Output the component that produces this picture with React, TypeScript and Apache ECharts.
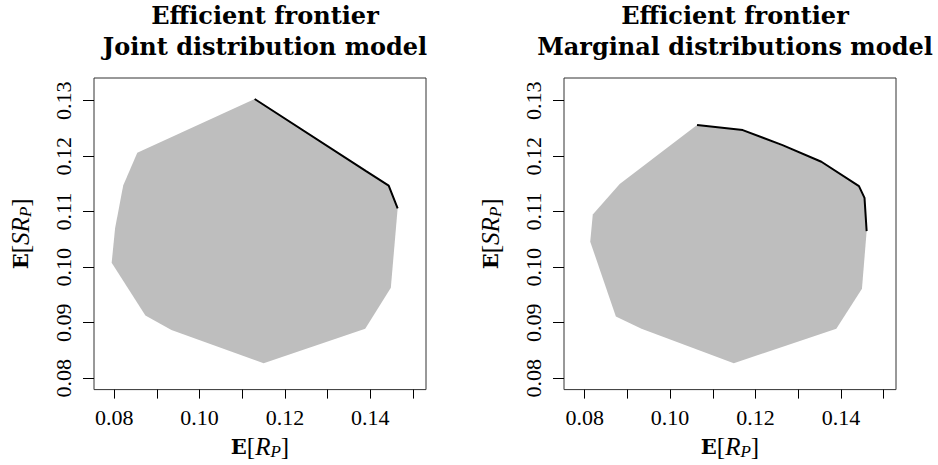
import React, { useEffect, useRef } from "react";
import * as echarts from "echarts";

// ---- data ----
const jointRegionX = [0.1129, 0.1443, 0.1464, 0.1448, 0.1388, 0.1150, 0.0934, 0.0873, 0.0794, 0.0802, 0.0821, 0.0854];
const jointRegionY = [0.1303, 0.1147, 0.1106, 0.0963, 0.0889, 0.0827, 0.0887, 0.0913, 0.1008, 0.1070, 0.1147, 0.1206];
const jointFrontierX = [0.1129, 0.1390, 0.1443, 0.1464];
const jointFrontierY = [0.1303, 0.1173, 0.1147, 0.1106];

const margRegionX = [0.1063, 0.1170, 0.1354, 0.1442, 0.1455, 0.1460, 0.1449, 0.1389, 0.1149, 0.0933, 0.0873, 0.0813, 0.0819, 0.0882];
const margRegionY = [0.1256, 0.1247, 0.1190, 0.1146, 0.1125, 0.1065, 0.0961, 0.0889, 0.0827, 0.0889, 0.0911, 0.1046, 0.1095, 0.1150];
const margFrontierX = [0.1063, 0.1170, 0.1263, 0.1354, 0.1442, 0.1455, 0.1460];
const margFrontierY = [0.1256, 0.1247, 0.1220, 0.1190, 0.1146, 0.1125, 0.1065];

const xTickValues = [0.08, 0.09, 0.10, 0.11, 0.12, 0.13, 0.14, 0.15];
const xLabelValues = [0.08, 0.10, 0.12, 0.14];
const yTickValues = [0.08, 0.09, 0.10, 0.11, 0.12, 0.13];
const yLabelValues = [0.08, 0.09, 0.10, 0.11, 0.12, 0.13];

const titles = ["Efficient frontier\nJoint distribution model", "Efficient frontier\nMarginal distributions model"];

const zip = (xs: number[], ys: number[]) => xs.map((x, i) => [x, ys[i]]);

const nameRich = {
  b: { fontFamily: "DejaVu Serif", fontWeight: "bold", fontSize: 21, color: "#000" },
  n: { fontFamily: "Liberation Serif", fontSize: 25, color: "#000" },
  i: { fontFamily: "Liberation Serif", fontStyle: "italic", fontSize: 25, color: "#000" },
  s: { fontFamily: "Liberation Serif", fontStyle: "italic", fontSize: 17, color: "#000", padding: [11, 0, 0, 0] },
};

export default function App() {
  const ref = useRef<HTMLDivElement>(null);
  useEffect(() => {
    if (!ref.current) return;
    const chart = echarts.init(ref.current, undefined, { renderer: "svg" });
    const grids = [
      { left: 94, top: 78, width: 332, height: 315 },
      { left: 564, top: 78, width: 332, height: 315 },
    ];
    const xRanges = [
      [0.07526, 0.15304],
      [0.07516, 0.15287],
    ];
    const yRange = [0.07794, 0.13409];
    const xAxis = [0, 1].map((i) => ({
      type: "value",
      gridIndex: i,
      min: xRanges[i][0],
      max: xRanges[i][1],
      splitLine: { show: false },
      axisLine: { show: false },
      axisTick: { show: true, length: 9, customValues: xTickValues, lineStyle: { color: "#000", width: 1 } },
      axisLabel: {
        customValues: xLabelValues,
        formatter: (v: number) => v.toFixed(2),
        fontFamily: "Liberation Serif",
        fontSize: 22,
        color: "#000",
        margin: 17,
      },
      name: "{b|E}{n|[}{i|R}{s|P}{n|]}",
      nameLocation: "middle",
      nameGap: 41,
      nameTextStyle: { rich: nameRich },
    }));
    const yAxis = [0, 1].map((i) => ({
      type: "value",
      gridIndex: i,
      min: yRange[0],
      max: yRange[1],
      splitLine: { show: false },
      axisLine: { show: false },
      axisTick: { show: true, length: 11, customValues: yTickValues, lineStyle: { color: "#000", width: 1 } },
      axisLabel: {
        customValues: yLabelValues,
        formatter: (v: number) => v.toFixed(2),
        fontFamily: "Liberation Serif",
        fontSize: 22,
        color: "#000",
        rotate: 90,
        margin: 20,
      },
      name: "{b|E}{n|[}{i|SR}{s|P}{n|]}",
      nameLocation: "middle",
      nameRotate: 90,
      nameGap: 60,
      nameTextStyle: { rich: nameRich },
    }));
    const region = (xs: number[], ys: number[], idx: number) => {
      const pts = zip(xs, ys);
      return {
        type: "custom",
        xAxisIndex: idx,
        yAxisIndex: idx,
        silent: true,
        data: pts,
        renderItem: (params: any, api: any) => {
          if (params.dataIndex !== 0) return null;
          return {
            type: "polygon",
            shape: { points: pts.map((p) => api.coord(p)) },
            style: { fill: "#bebebe", stroke: "none" },
          };
        },
      };
    };
    const frontier = (xs: number[], ys: number[], idx: number) => ({
      type: "line",
      xAxisIndex: idx,
      yAxisIndex: idx,
      data: zip(xs, ys),
      showSymbol: false,
      symbol: "none",
      silent: true,
      lineStyle: { color: "#000", width: 2 },
      z: 3,
    });
    chart.setOption({
      animation: false,
      backgroundColor: "#fff",
      title: titles.map((t, i) => ({
        text: t,
        left: grids[i].left + grids[i].width / 2,
        top: -5,
        textAlign: "center",
        textStyle: {
          fontFamily: "DejaVu Serif",
          fontWeight: "bold",
          fontSize: 24,
          lineHeight: 31,
          color: "#000",
        },
      })),
      grid: grids.map((g) => ({ ...g, show: true, borderColor: "#333", borderWidth: 1, backgroundColor: "transparent" })),
      xAxis,
      yAxis,
      series: [
        region(jointRegionX, jointRegionY, 0),
        frontier(jointFrontierX, jointFrontierY, 0),
        region(margRegionX, margRegionY, 1),
        frontier(margFrontierX, margFrontierY, 1),
      ],
    });
    return () => chart.dispose();
  }, []);
  return <div ref={ref} style={{ position: "absolute", left: 0, top: 0, width: 938, height: 465 }} />;
}
